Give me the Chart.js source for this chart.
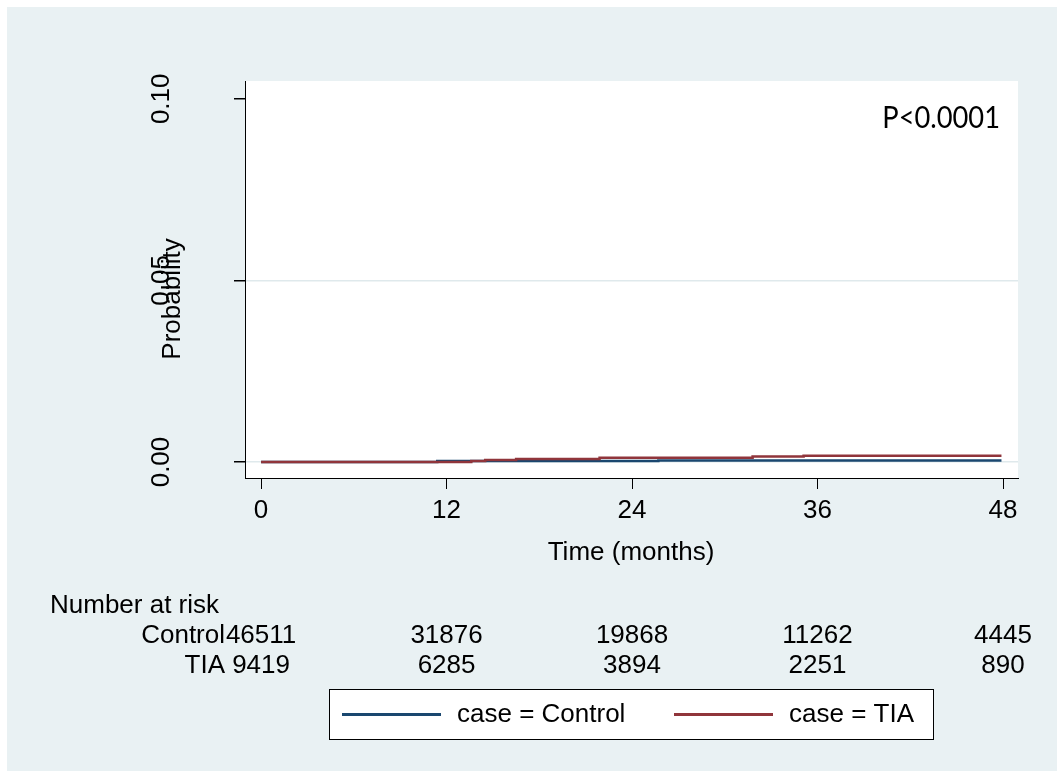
<!DOCTYPE html>
<html>
<head>
<meta charset="utf-8">
<script src="https://cdn.jsdelivr.net/npm/chart.js@4/dist/chart.umd.min.js"></script>
<style>
  body { margin: 0; background: #fff; }
  canvas { display: block; }
</style>
</head>
<body>
<canvas id="km-chart" width="1057" height="771"></canvas>
<script>
// Kaplan-Meier style cumulative probability, Control vs TIA
const xTicks = [0, 12, 24, 36, 48];
const yTicks = [0, 0.05, 0.10];
const yTickLabels = ['0.00', '0.05', '0.10'];

const timesControl = [0, 11.4, 25.7, 47.9];
const probControl = [0, 0.0003, 0.0004, 0.0004];

const timesTIA = [0, 13.6, 14.5, 16.5, 21.9, 31.8, 35.1, 47.9];
const probTIA = [0, 0.0003, 0.00055, 0.0008, 0.0012, 0.0015, 0.0017, 0.0017];

const riskGroups = ['Control', 'TIA'];
const riskControl = [46511, 31876, 19868, 11262, 4445];
const riskTIA = [9419, 6285, 3894, 2251, 890];

const legendLabels = ['case = Control', 'case = TIA'];
const pValueText = 'P<0.0001';

const BLUE = '#1a476f';
const RED = '#90353b';
const BG = '#e9f1f3';
const FONT = '"Liberation Sans", Arial, sans-serif';

function toPoints(xs, ys) {
    return xs.map((t, i) => ({ x: t, y: ys[i] }));
}

const framePlugin = {
    id: 'frame',
    beforeDraw(chart) {
        const { ctx, chartArea: a } = chart;
        ctx.save();
        ctx.fillStyle = '#fff';
        ctx.fillRect(0, 0, chart.width, chart.height);
        ctx.fillStyle = BG;
        ctx.fillRect(7, 7, chart.width - 7, chart.height - 7);
        ctx.fillStyle = '#fff';
        ctx.fillRect(a.left, a.top, a.right - a.left, a.bottom - a.top);
        ctx.restore();
    },
    afterDraw(chart) {
        const { ctx, scales } = chart;
        const xs = scales.x, ys = scales.y;
        ctx.save();
        ctx.fillStyle = '#000';
        ctx.font = '26px ' + FONT;

        // y tick labels, rotated
        yTicks.forEach((v, i) => {
            ctx.save();
            ctx.translate(162, ys.getPixelForValue(v));
            ctx.rotate(-Math.PI / 2);
            ctx.textAlign = 'center';
            ctx.textBaseline = 'middle';
            ctx.fillText(yTickLabels[i], 0, 0);
            ctx.restore();
        });
        // y title
        ctx.save();
        ctx.translate(173, 299);
        ctx.rotate(-Math.PI / 2);
        ctx.textAlign = 'center';
        ctx.textBaseline = 'middle';
        ctx.fillText('Probability', 0, 0);
        ctx.restore();

        // x tick labels
        ctx.textAlign = 'center';
        ctx.textBaseline = 'middle';
        xTicks.forEach(t => ctx.fillText(String(t), xs.getPixelForValue(t), 511));
        ctx.fillText('Time (months)', 631, 553);

        // number at risk table
        ctx.textAlign = 'left';
        ctx.fillText('Number at risk', 50, 606);
        [riskControl, riskTIA].forEach((row, r) => {
            const y = 636 + r * 30;
            ctx.textAlign = 'right';
            ctx.fillText(riskGroups[r], 225, y);
            ctx.textAlign = 'center';
            row.forEach((n, i) => ctx.fillText(String(n), xs.getPixelForValue(xTicks[i]), y));
        });

        // legend box
        ctx.fillStyle = '#fff';
        ctx.fillRect(329, 689, 604, 50);
        ctx.strokeStyle = '#000';
        ctx.lineWidth = 1;
        ctx.strokeRect(329.5, 689.5, 604, 50);
        const legendItems = [
            { color: BLUE, x0: 342, x1: 441, tx: 457 },
            { color: RED, x0: 674, x1: 773, tx: 789 }
        ];
        legendItems.forEach((it, i) => {
            ctx.strokeStyle = it.color;
            ctx.lineWidth = 3;
            ctx.beginPath();
            ctx.moveTo(it.x0, 714.5);
            ctx.lineTo(it.x1, 714.5);
            ctx.stroke();
            ctx.fillStyle = '#000';
            ctx.textAlign = 'left';
            ctx.fillText(legendLabels[i], it.tx, 715);
        });

        // p value (narrow, tall face like the original)
        ctx.save();
        ctx.translate(1000, 118);
        ctx.scale(0.88, 1);
        ctx.font = '31px Lato, "Open Sans", sans-serif';
        ctx.textAlign = 'right';
        ctx.fillText(pValueText, 0, 0);
        ctx.restore();
        ctx.restore();
    }
};

new Chart(document.getElementById('km-chart').getContext('2d'), {
    type: 'line',
    data: {
        datasets: [
            {
                label: legendLabels[0],
                data: toPoints(timesControl, probControl),
                borderColor: BLUE, borderWidth: 2.5,
                pointRadius: 0, stepped: 'before', order: 2
            },
            {
                label: legendLabels[1],
                data: toPoints(timesTIA, probTIA),
                borderColor: RED, borderWidth: 2.5,
                pointRadius: 0, stepped: 'before', order: 1
            }
        ]
    },
    options: {
        responsive: false,
        animation: false,
        layout: { padding: { top: 81, right: 39, left: 0, bottom: 0 } },
        plugins: { legend: { display: false }, tooltip: { enabled: false } },
        scales: {
            x: {
                type: 'linear',
                min: -1.04, max: 48.97,
                afterBuildTicks: s => { s.ticks = xTicks.map(v => ({ value: v })); },
                afterFit: s => { s.height = 293; },
                ticks: { display: false },
                grid: { drawOnChartArea: false, drawTicks: true, tickLength: 11, tickColor: '#000' },
                border: { color: '#000', width: 1 }
            },
            y: {
                type: 'linear',
                min: -0.0044, max: 0.1049,
                afterBuildTicks: s => { s.ticks = yTicks.map(v => ({ value: v })); },
                afterFit: s => { s.width = 245; },
                ticks: { display: false },
                grid: {
                    color: c => (c.tick && c.tick.value >= 0.1 ? 'rgba(0,0,0,0)' : '#dfe9ec'),
                    lineWidth: 1.5, drawTicks: true, tickLength: 11, tickColor: '#000'
                },
                border: { color: '#000', width: 1 }
            }
        }
    },
    plugins: [framePlugin]
});
</script>
</body>
</html>
